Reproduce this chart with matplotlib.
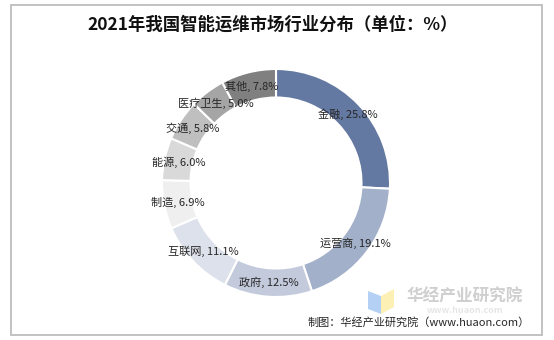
import matplotlib.pyplot as plt
import numpy as np
from matplotlib.patches import Rectangle, Polygon

plt.rcParams['font.family'] = ['Noto Sans CJK SC', 'DejaVu Sans']

industries = ['金融', '运营商', '政府', '互联网', '制造', '能源', '交通', '医疗卫生', '其他']
shares = [25.8, 19.1, 12.5, 11.1, 6.9, 6.0, 5.8, 5.0, 7.8]
colors = ['#6479a2', '#a3b0c9', '#c3cadb', '#dde1eb', '#efefef',
          '#d9d9d9', '#bfbfbf', '#a5a5a5', '#808080']

W, H = 554, 340
fig = plt.figure(figsize=(W / 100, H / 100), dpi=100)

# outer frame
fig.patches.append(Rectangle((11 / W, 5 / H), 531 / W, 330 / H, transform=fig.transFigure,
                             fill=False, edgecolor='#bdbdbd', linewidth=1.3))

fig.text(273 / W, 1 - 25 / H, '2021年我国智能运维市场行业分布（单位：%）',
         ha='center', va='center', fontsize=12.5, fontweight='bold', color='#111111')

# donut axes: centre at (276, 183) px, outer radius 114 px
R = 114
span = 1.25
cx, cy = 276, 183
ax = fig.add_axes([(cx - span * R) / W, (H - cy - span * R) / H, 2 * span * R / W, 2 * span * R / H])
ax.set_xlim(-span, span)
ax.set_ylim(-span, span)
ax.axis('off')

wedges, _ = ax.pie(shares, colors=colors, startangle=90, counterclock=False,
                   radius=1.0, wedgeprops=dict(width=0.25, edgecolor='white', linewidth=1.5))

start = 90.0
for name, val in zip(industries, shares):
    mid = np.deg2rad(start - val * 3.6 / 2)
    start -= val * 3.6
    ax.text(0.875 * np.cos(mid), 0.875 * np.sin(mid), f'{name}, {val}%',
            ha='center', va='center', fontsize=8, color='#262626')

# watermark
fig.patches.append(Polygon([(368 / W, 1 - 291 / H), (381 / W, 1 - 296 / H),
                            (381 / W, 1 - 314 / H), (368 / W, 1 - 309 / H)],
                           closed=True, transform=fig.transFigure, facecolor='#b4d0f5', edgecolor='none'))
fig.patches.append(Polygon([(381 / W, 1 - 296 / H), (394 / W, 1 - 289 / H),
                            (394 / W, 1 - 307 / H), (381 / W, 1 - 314 / H)],
                           closed=True, transform=fig.transFigure, facecolor='#fdf0b5', edgecolor='none'))
fig.text(465 / W, 1 - 296 / H, '华经产业研究院', ha='center', va='center',
         fontsize=12, fontweight='bold', color='#cfcfcf')
fig.text(465 / W, 1 - 310.5 / H, 'www.huaon.com', ha='center', va='center',
         fontsize=6.5, fontweight='bold', color='#e6e6e6')

fig.text(530 / W, 1 - 322.5 / H, '制图：华经产业研究院（www.huaon.com）',
         ha='right', va='center', fontsize=8, color='#262626')

fig.savefig('out.png', dpi=100)
